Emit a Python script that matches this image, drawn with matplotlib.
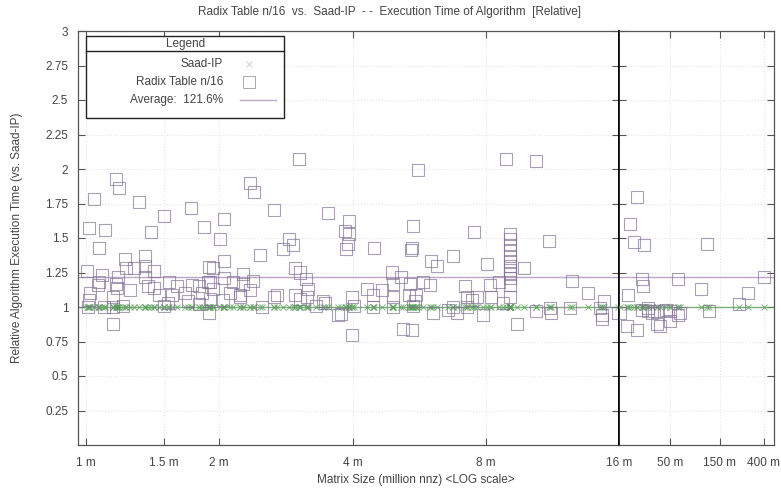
import numpy as np
import matplotlib
matplotlib.use("Agg")
import matplotlib.pyplot as plt
from matplotlib.patches import Rectangle
from matplotlib.lines import Line2D

plt.rcParams['font.family'] = ['Liberation Sans', 'DejaVu Sans']

# Matrix sizes (million nnz) and relative execution time of Radix Table n/16
size_small = [
    1.169, 1.187, 1.042, 1.318, 1.727, 1.500, 1.016, 1.104, 1.402, 1.848,
    1.070, 1.359, 1.225, 1.359, 1.283, 1.005, 1.231, 1.087, 1.181, 1.424,
    1.359, 1.070, 1.064, 1.169, 1.540, 1.381, 1.175, 1.257, 1.021, 1.424,
    1.605, 1.735, 1.800, 1.887, 1.151, 1.462, 1.564, 1.673, 1.828, 1.016,
    1.151, 1.212, 1.532, 1.699, 1.151, 1.896, 1.10, 1.50, 1.80, 1.01,
    3.028, 2.347, 2.397, 2.659, 3.52, 2.05, 2.008, 2.874, 2.935, 2.786,
    2.472, 2.05, 1.936, 2.965, 3.044, 2.263, 2.05, 1.906, 2.148, 2.384,
    3.14, 2.263, 3.174, 1.936, 2.347, 2.114, 2.228, 2.228, 2.70, 2.659,
    2.965, 3.044, 3.157, 3.43, 3.468, 1.906, 2.04, 1.896, 3.71, 2.50, 3.30,
    5.63, 3.928, 3.847, 3.928, 5.48, 3.907, 3.866, 5.45, 5.42, 4.47,
    6.02, 6.21, 6.75, 4.91, 5.15, 4.94, 5.39, 5.77, 5.99, 7.18,
    4.31, 4.66, 3.99, 4.45, 4.94, 5.37, 5.57, 5.54, 7.26, 3.768,
    6.08, 6.57, 6.89, 3.99, 5.20, 5.45, 4.03, 4.45, 4.94, 5.48, 6.75,
    8.89, 10.39, 7.53, 9.08, 9.08, 9.08, 9.08, 9.08, 9.08, 9.08,
    9.08, 9.08, 9.08, 9.08, 9.08, 11.12, 8.05, 9.76, 8.57, 8.18,
    12.53, 13.62, 7.64, 8.22, 7.45, 7.26, 8.75, 7.89, 9.41, 10.39,
    11.18, 11.23, 12.40, 14.8, 14.49, 14.64, 14.64, 15.9,
]
time_small = [
    1.93, 1.86, 1.78, 1.76, 1.72, 1.66, 1.57, 1.56, 1.54, 1.58,
    1.43, 1.37, 1.35, 1.30, 1.28, 1.26, 1.28, 1.23, 1.22, 1.26,
    1.22, 1.18, 1.16, 1.17, 1.18, 1.15, 1.14, 1.12, 1.10, 1.14,
    1.15, 1.16, 1.15, 1.18, 1.07, 1.09, 1.09, 1.10, 1.10, 1.05,
    1.00, 1.01, 1.03, 1.04, 0.88, 1.29, 1.00, 1.01, 1.02, 1.00,
    2.07, 1.90, 1.83, 1.70, 1.68, 1.64, 1.49, 1.49, 1.45, 1.42,
    1.38, 1.33, 1.28, 1.28, 1.25, 1.24, 1.21, 1.18, 1.18, 1.19,
    1.20, 1.17, 1.13, 1.13, 1.12, 1.10, 1.09, 1.07, 1.09, 1.07,
    1.09, 1.06, 1.07, 1.04, 1.03, 1.06, 1.05, 0.96, 0.94, 1.00, 1.01,
    1.99, 1.62, 1.55, 1.53, 1.59, 1.46, 1.42, 1.43, 1.41, 1.43,
    1.33, 1.30, 1.37, 1.25, 1.22, 1.17, 1.17, 1.18, 1.16, 1.15,
    1.13, 1.12, 1.07, 1.09, 1.07, 1.09, 1.09, 1.04, 1.07, 0.95,
    0.96, 0.98, 0.96, 0.80, 0.84, 0.83, 1.01, 1.00, 1.00, 1.01, 1.00,
    2.07, 2.06, 1.54, 1.53, 1.49, 1.45, 1.41, 1.37, 1.33, 1.30,
    1.27, 1.24, 1.21, 1.16, 1.07, 1.48, 1.31, 1.28, 1.18, 1.16,
    1.19, 1.10, 1.07, 1.07, 1.05, 1.00, 1.03, 0.94, 0.88, 0.97,
    0.99, 0.96, 0.99, 1.04, 0.99, 0.94, 0.91, 0.96,
]

size_large = [
    23.8, 20.4, 22.3, 27.8, 112, 26.6, 27.2, 59, 397, 98,
    278, 19.5, 16.2, 26.6, 30.4, 33.2, 37.1, 45.3, 49.4, 30.4,
    61.8, 59, 117, 228, 49.4, 37.1, 39.7, 19.1, 23.8,
]
time_large = [
    1.80, 1.60, 1.47, 1.45, 1.46, 1.20, 1.15, 1.20, 1.22, 1.13,
    1.10, 1.09, 0.96, 0.98, 0.97, 0.96, 0.97, 0.98, 0.97, 0.99,
    0.96, 0.94, 0.97, 1.02, 0.90, 0.88, 0.86, 0.86, 0.83,
]

average = 1.216
y_ticks = [0.25, 0.5, 0.75, 1, 1.25, 1.5, 1.75, 2, 2.25, 2.5, 2.75, 3]
ticks_small = [1, 1.5, 2, 4, 8, 16]
labels_small = ['1 m', '1.5 m', '2 m', '4 m', '8 m', '16 m']
ticks_large = [50, 150, 400]
labels_large = ['50 m', '150 m', '400 m']

sq_color = '#7d6e8e'
saad_color = '#5c9e5c'
avg_color = '#b9a7c4'
frame_color = '#555555'
text_color = '#444444'

fig = plt.figure(figsize=(7.81, 4.93), dpi=100)
W, H = 781, 493
ax1 = fig.add_axes([78 / W, (H - 445) / H, 541 / W, 414 / H])
ax2 = fig.add_axes([619 / W, (H - 445) / H, 155 / W, 414 / H])

for ax, xs, ys, lim in [(ax1, size_small, time_small, (0.959, 16)),
                        (ax2, size_large, time_large, (16, 500))]:
    ax.set_xscale('log')
    ax.set_xlim(*lim)
    ax.set_ylim(0, 3)
    ax.minorticks_off()
    ax.set_yticks(y_ticks)
    ax.grid(True, color='#e6e6e6', linestyle=':', linewidth=0.8)
    ax.axhline(1.0, color=saad_color, lw=1.0, alpha=0.8, zorder=2)
    ax.plot(xs, [1.0] * len(xs), linestyle='none', marker='x', ms=5,
            mew=0.7, color=saad_color, alpha=0.75, zorder=3)
    ax.axhline(average, color=avg_color, lw=1.0, zorder=2)
    ax.scatter(xs, ys, marker='s', s=75, facecolors='none',
               edgecolors=sq_color, linewidths=0.8, alpha=0.65, zorder=4)
    ax.tick_params(direction='in', top=True, right=True, length=5,
                   width=0.8, colors=frame_color, labelcolor=text_color,
                   labelsize=8.5)
    for s in ax.spines.values():
        s.set_color(frame_color)
        s.set_linewidth(0.9)

ax1.set_xticks(ticks_small)
ax1.set_xticklabels(labels_small)
ax1.tick_params(axis='x', pad=9)
ax1.tick_params(axis='y', pad=7)
ax1.set_yticklabels(['%g' % v for v in y_ticks])
ax1.spines['right'].set_color('black')
ax1.spines['right'].set_linewidth(1.2)

ax2.set_xticks(ticks_large)
ax2.set_xticklabels(labels_large)
ax2.tick_params(axis='x', pad=9)
ax2.tick_params(axis='y', labelleft=False)
ax2.spines['left'].set_color('black')
ax2.spines['left'].set_linewidth(1.2)

fig.text(390 / W, 1 - 12 / H,
         'Radix Table n/16  vs.  Saad-IP  - -  Execution Time of Algorithm  [Relative]',
         ha='center', va='center', fontsize=8.5, color=text_color)
fig.text(416 / W, 1 - 480 / H, 'Matrix Size (million nnz) <LOG scale>',
         ha='center', va='center', fontsize=8.5, color=text_color)
fig.text(17 / W, 1 - 238 / H, 'Relative Algorithm Execution Time (vs. Saad-IP)',
         ha='center', va='center', rotation=90, fontsize=8.5, color=text_color)

# legend box drawn by hand, in axes fractions of the left panel
tr = ax1.transAxes
ax1.add_patch(Rectangle((0.0148, 0.79), 0.366, 0.198, transform=tr,
                        facecolor='white', edgecolor='#222222', lw=1.0,
                        zorder=10))
ax1.add_line(Line2D([0.0148, 0.381], [0.952, 0.952], transform=tr,
                    color='#222222', lw=1.0, zorder=11))
ax1.text(0.199, 0.969, 'Legend', transform=tr, ha='center', va='center',
         fontsize=8.5, color=text_color, zorder=12)
entries = ['Saad-IP', 'Radix Table n/16', 'Average:  121.6%']
ys_leg = [0.920, 0.877, 0.833]
for label, yl in zip(entries, ys_leg):
    ax1.text(0.268, yl, label, transform=tr, ha='right', va='center',
             fontsize=8.5, color=text_color, zorder=12)
ax1.plot([0.316], [ys_leg[0]], transform=tr, marker='x', ms=5, mew=0.7,
         color='#c8d4c8', linestyle='none', zorder=12)
ax1.plot([0.316], [ys_leg[1]], transform=tr, marker='s', ms=8, mew=0.7,
         mfc='none', mec='#aaaaaa', linestyle='none', zorder=12)
ax1.add_line(Line2D([0.299, 0.366], [ys_leg[2], ys_leg[2]], transform=tr,
                    color=avg_color, lw=1.0, zorder=12))

fig.savefig('out.png', dpi=100)
